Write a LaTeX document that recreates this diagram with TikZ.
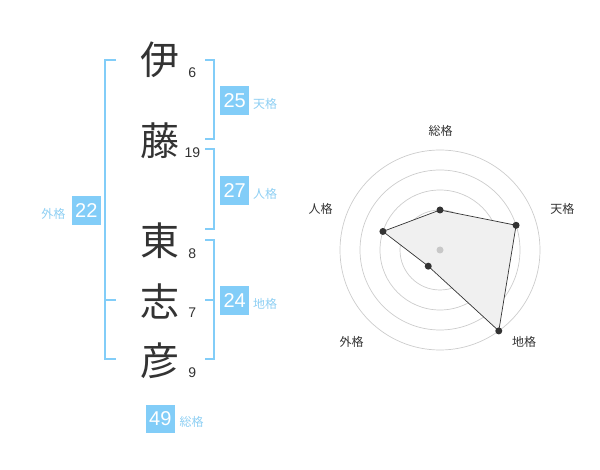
\documentclass[tikz,border=0pt]{standalone}
\usepackage{fontspec}
\setmainfont{Liberation Sans}
\newfontfamily\cjk{Noto Sans CJK JP}
\usepackage{tikz}
\usetikzlibrary{calc}
\definecolor{ink}{HTML}{333333}
\definecolor{sky}{HTML}{82CDF8}
\definecolor{skytext}{HTML}{8ECFF3}
\definecolor{ring}{HTML}{CCCCCC}
\definecolor{area}{HTML}{F0F0F0}
\definecolor{hub}{HTML}{C8C8C8}
\tikzset{
  bracket/.style={draw=sky, line width=2pt},
  kanji/.style={text=ink, font=\cjk\fontsize{39}{39}\selectfont, inner sep=0pt},
  strokes/.style={text=ink, font=\fontsize{14}{14}\selectfont, inner sep=0pt},
  score/.style={fill=sky, text=white, font=\fontsize{20}{20}\selectfont, minimum size=28.5pt, inner sep=0pt},
  kaku/.style={text=skytext, font=\cjk\fontsize{12}{12}\selectfont, inner sep=0pt},
  ringline/.style={draw=ring, line width=0.7pt},
  area/.style={draw=ink, fill=area, line width=0.7pt},
  dot/.style={circle, fill=ink, inner sep=0pt, minimum size=7pt},
  axislbl/.style={text=ink, font=\cjk\fontsize{12}{12}\selectfont, inner sep=0pt}
}
\begin{document}
\begin{tikzpicture}[x=1pt, y=-1pt]
  \useasboundingbox (0,0) rectangle (600,470);

  % name
  \node[kanji] (i) at (160,60) {伊};
  \node[kanji] (to) at (160,140.5) {藤};
  \node[kanji] (azuma) at (160,241) {東};
  \node[kanji] (shi) at (160,301) {志};
  \node[kanji] (hiko) at (160,361) {彦};

  \node[strokes] (n1) at (192.3,72.7) {6};
  \node[strokes] (n2) at (192.3,152.7) {19};
  \node[strokes] (n3) at (192.3,253.3) {8};
  \node[strokes] (n4) at (192.3,312.7) {7};
  \node[strokes] (n5) at (192.3,372.7) {9};

  % brackets
  \draw[bracket] (116,60) -- (104.5,60) -- (104.5,359.5) -- (116,359.5);
  \draw[bracket] (104.5,300) -- (116,300);
  \draw[bracket] (205,60) -- (214,60) -- (214,139.5) -- (205,139.5);
  \draw[bracket] (205,149.5) -- (214,149.5) -- (214,229) -- (205,229);
  \draw[bracket] (205,240) -- (214,240) -- (214,359.5) -- (205,359.5);
  \draw[bracket] (214,300) -- (205,300);

  % scores
  \node[score] (ten) at (234.7,100.3) {25};
  \node[kaku] (tenlbl) at (265,103.7) {天格};
  \node[score] (jin) at (234.7,190.3) {27};
  \node[kaku] (jinlbl) at (265,193.7) {人格};
  \node[score] (gai) at (86.3,210.3) {22};
  \node[kaku] (gailbl) at (53.3,213.7) {外格};
  \node[score] (chi) at (234.7,300.3) {24};
  \node[kaku] (chilbl) at (265,304) {地格};
  \node[score] (so) at (160.3,419) {49};
  \node[kaku] (solbl) at (191.7,422.3) {総格};

  % radar
  \coordinate (C) at (440,250);
  \foreach \r in {20,40,...,100}
    \draw[ringline] (C) circle (\r);
  \foreach \name/\ang/\val in {pso/90/40, pten/18/80, pchi/-54/100, pgai/-126/20, pjin/162/60}
    \coordinate (\name) at ($(C)+(-\ang:\val)$);
  \filldraw[area] (pso) -- (pten) -- (pchi) -- (pgai) -- (pjin) -- cycle;
  \fill[hub] (C) circle (3.5);
  \foreach \name in {pso,pten,pchi,pgai,pjin}
    \node[dot] at (\name) {};

  \node[axislbl] (aso) at (440.7,130.7) {総格};
  \node[axislbl] (aten) at (562.3,208.7) {天格};
  \node[axislbl] (achi) at (524,342.3) {地格};
  \node[axislbl] (agai) at (351.7,342.3) {外格};
  \node[axislbl] (ajin) at (320.7,208.7) {人格};
\end{tikzpicture}
\end{document}
